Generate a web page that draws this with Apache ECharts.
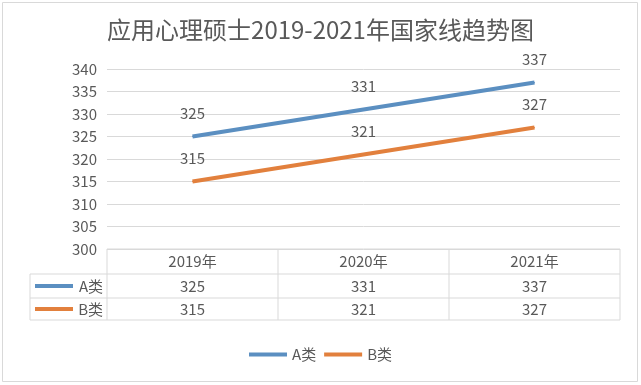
<!DOCTYPE html>
<html><head><meta charset="utf-8">
<script src="https://cdn.jsdelivr.net/npm/echarts@6/dist/echarts.min.js"></script>
<style>html,body{margin:0;padding:0;background:#fff}#c{width:641px;height:385px}</style>
</head><body><div id="c"></div>
<script>
const titleText = '应用心理硕士2019-2021年国家线趋势图';
const categories = ['2019年', '2020年', '2021年'];
const seriesNames = ['A类', 'B类'];
const valuesA = [325, 331, 337];
const valuesB = [315, 321, 327];
const yTicks = { min: 300, max: 340, interval: 5 };
const colors = ['#5b8fc1', '#e2803d'];
const txt = '#595959';
const font = '"Noto Sans CJK SC", "Noto Sans", sans-serif';

const chart = echarts.init(document.getElementById('c'), null, { renderer: 'canvas' });
const lbl = { show: true, position: 'top', distance: 15, color: txt, fontSize: 15, fontFamily: font };
chart.setOption({
  animation: false,
  title: { text: titleText, left: 'center', top: 13, textStyle: { fontSize: 24, fontWeight: 'normal', color: txt, fontFamily: font } },
  grid: { left: 107, right: 21, top: 69, bottom: 136 },
  legend: { bottom: 18, left: 'center', icon: 'rect', itemWidth: 38, itemHeight: 4, itemGap: 8,
    textStyle: { color: txt, fontSize: 15, fontFamily: font }, data: seriesNames },
  xAxis: { type: 'category', data: categories, boundaryGap: true,
    axisLine: { show: false }, axisTick: { show: false }, axisLabel: { show: false } },
  yAxis: { type: 'value', min: yTicks.min, max: yTicks.max, interval: yTicks.interval,
    axisLine: { show: false }, axisTick: { show: false },
    axisLabel: { color: txt, fontSize: 15, margin: 10, fontFamily: font },
    splitLine: { lineStyle: { color: '#d9d9d9', width: 1 } } },
  series: [
    { name: seriesNames[0], type: 'line', data: valuesA, symbol: 'circle', symbolSize: 1, showSymbol: true, lineStyle: { width: 4, color: colors[0] }, itemStyle: { color: colors[0] }, label: lbl },
    { name: seriesNames[1], type: 'line', data: valuesB, symbol: 'circle', symbolSize: 1, showSymbol: true, lineStyle: { width: 4, color: colors[1] }, itemStyle: { color: colors[1] }, label: lbl }
  ]
});

// Data table under the plot, positioned from the chart's own scales
const n = categories.length;
const x0 = chart.convertToPixel({ xAxisIndex: 0 }, categories[0]);
const x1 = chart.convertToPixel({ xAxisIndex: 0 }, categories[1]);
const step = x1 - x0;
const left = x0 - step / 2;
const right = left + step * n;
const yTop = chart.convertToPixel({ yAxisIndex: 0 }, yTicks.min);
const rowH = [25, 24, 22];
const rows = [yTop, yTop + rowH[0], yTop + rowH[0] + rowH[1], yTop + rowH[0] + rowH[1] + rowH[2]];
const legLeft = 30;
const lc = '#d9d9d9';
const g = [];
function hl(xa, xb, y) { g.push({ type: 'line', shape: { x1: xa, y1: y, x2: xb, y2: y }, style: { stroke: lc, lineWidth: 1 }, silent: true }); }
function vl(x, ya, yb) { g.push({ type: 'line', shape: { x1: x, y1: ya, x2: x, y2: yb }, style: { stroke: lc, lineWidth: 1 }, silent: true }); }
function tx(x, y, s, align) { g.push({ type: 'text', x: x, y: y, style: { text: s, fill: txt, font: '15px ' + font, align: align || 'center', verticalAlign: 'middle' }, silent: true }); }
hl(left, right, rows[0]);
hl(legLeft, right, rows[1]);
hl(legLeft, right, rows[2]);
hl(legLeft, right, rows[3]);
for (let i = 0; i <= n; i++) vl(left + step * i, rows[0], rows[3]);
vl(legLeft, rows[1], rows[3]);
const tableData = [valuesA, valuesB];
categories.forEach((c, i) => {
  const cx = chart.convertToPixel({ xAxisIndex: 0 }, c);
  tx(cx, (rows[0] + rows[1]) / 2, c);
  tx(cx, (rows[1] + rows[2]) / 2, String(tableData[0][i]));
  tx(cx, (rows[2] + rows[3]) / 2, String(tableData[1][i]));
});
seriesNames.forEach((s, k) => {
  const cy = (rows[1 + k] + rows[2 + k]) / 2;
  g.push({ type: 'rect', shape: { x: legLeft + 5, y: cy - 2, width: 38, height: 4 }, style: { fill: colors[k] }, silent: true });
  tx(left - 4, cy, s, 'right');
});
// outer frame
g.push({ type: 'rect', shape: { x: 2.5, y: 2.5, width: 635, height: 379 }, style: { fill: 'none', stroke: '#d9d9d9', lineWidth: 1 }, silent: true });
chart.setOption({ graphic: g });
</script></body></html>
